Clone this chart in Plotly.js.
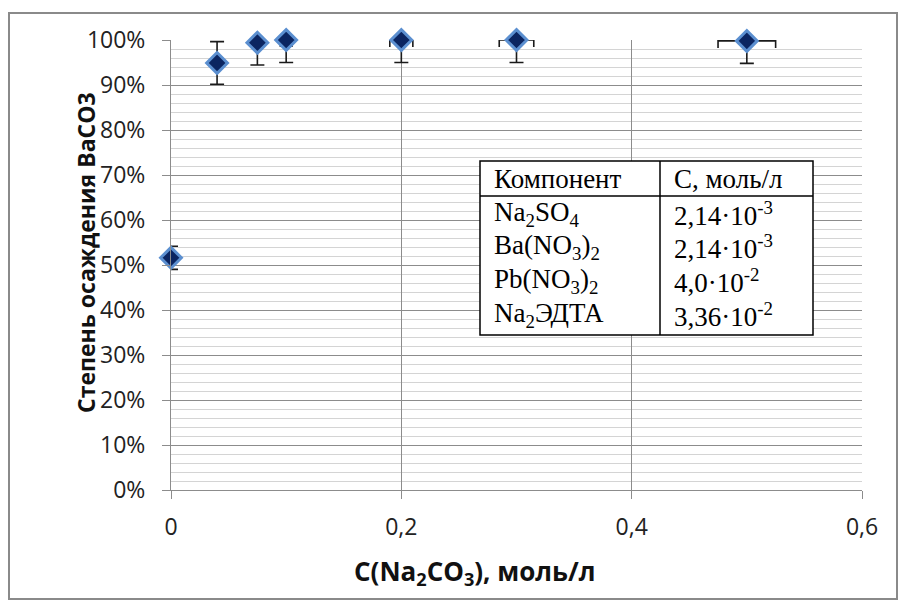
<!DOCTYPE html>
<html>
<head>
<meta charset="utf-8">
<script src="https://cdn.plot.ly/plotly-3.0.1.min.js"></script>
<style>html,body{margin:0;padding:0;background:#fff;}#chart{width:898px;height:600px;}</style>
</head>
<body>
<div id="chart"></div>
<script>
// ---- data ----
const concNa2CO3 = [0, 0.04, 0.075, 0.1, 0.2, 0.3, 0.5];          // mol/l
const precipDegree = [0.516, 0.949, 0.994, 1.0, 1.0, 1.0, 0.998]; // fraction
const errPercentX = 5;
const errPercentY = 5;
const xTickValues = [0, 0.2, 0.4, 0.6];
const xTickLabels = ['0', '0,2', '0,4', '0,6'];
const tableHeader = ['Компонент', 'C, моль/л'];
const tableComponents = ['Na<sub>2</sub>SO<sub>4</sub>', 'Ba(NO<sub>3</sub>)<sub>2</sub>', 'Pb(NO<sub>3</sub>)<sub>2</sub>', 'Na<sub>2</sub>ЭДТА'];
const tableConcentrations = ['2,14·10<sup>-3</sup>', '2,14·10<sup>-3</sup>', '4,0·10<sup>-2</sup>', '3,36·10<sup>-2</sup>'];

// ---- layout geometry (pixels) ----
const W = 898, H = 600;
const M = {l: 171, r: 36, t: 40, b: 110};
const pw = W - M.l - M.r, ph = H - M.t - M.b;
const px = v => (v - M.l) / pw;
const py = v => 1 - (v - M.t) / ph;

const tickFont = {family: 'Open Sans, sans-serif', size: 23, color: '#222'};

const traces = [
  { // error bars (clipped to plot)
    x: concNa2CO3, y: precipDegree, type: 'scatter', mode: 'markers',
    marker: {size: 1, color: 'rgba(0,0,0,0)'},
    error_y: {type: 'percent', value: errPercentY, color: '#1a1a1a', thickness: 1.6, width: 7},
    error_x: {type: 'percent', value: errPercentX, color: '#1a1a1a', thickness: 1.6, width: 7},
    cliponaxis: true, hoverinfo: 'skip', showlegend: false
  },
  { // markers
    x: concNa2CO3, y: precipDegree, type: 'scatter', mode: 'markers',
    marker: {symbol: 'diamond', size: 16, color: '#0b2561', line: {color: '#5b8fd0', width: 3}},
    cliponaxis: false, showlegend: false
  }
];

const shapes = [
  {type: 'rect', xref: 'paper', yref: 'paper', x0: px(9), x1: px(897), y0: py(13), y1: py(599),
   line: {color: '#8a8a8a', width: 2}, fillcolor: 'rgba(0,0,0,0)', layer: 'below'},
  {type: 'rect', xref: 'paper', yref: 'paper', x0: px(480), x1: px(813), y0: py(161), y1: py(335),
   line: {color: '#000', width: 1.5}, fillcolor: '#fff', layer: 'above'},
  {type: 'line', xref: 'paper', yref: 'paper', x0: px(480), x1: px(813), y0: py(196), y1: py(196),
   line: {color: '#000', width: 1.5}},
  {type: 'line', xref: 'paper', yref: 'paper', x0: px(660), x1: px(660), y0: py(161), y1: py(335),
   line: {color: '#000', width: 1.5}}
];

const tFont = {family: 'Liberation Serif, Times New Roman, serif', size: 27, color: '#000'};
const rowY = [179, 214, 247, 281, 315];
const annotations = [];
annotations.push({xref: 'paper', yref: 'paper', x: px(492), y: py(rowY[0]), xanchor: 'left', yanchor: 'middle', text: tableHeader[0], showarrow: false, font: tFont});
annotations.push({xref: 'paper', yref: 'paper', x: px(672), y: py(rowY[0]), xanchor: 'left', yanchor: 'middle', text: tableHeader[1], showarrow: false, font: tFont});
tableComponents.forEach((c, i) => {
  annotations.push({xref: 'paper', yref: 'paper', x: px(492), y: py(rowY[i + 1]), xanchor: 'left', yanchor: 'middle', text: c, showarrow: false, font: tFont});
  annotations.push({xref: 'paper', yref: 'paper', x: px(672), y: py(rowY[i + 1]), xanchor: 'left', yanchor: 'middle', text: tableConcentrations[i], showarrow: false, font: tFont});
});
annotations.push({xref: 'paper', yref: 'paper', x: px(475), y: py(572), xanchor: 'center', yanchor: 'middle',
  text: '<b>C(Na<sub>2</sub>CO<sub>3</sub>), моль/л</b>', showarrow: false,
  font: {family: 'Open Sans, sans-serif', size: 26, color: '#111'}});
annotations.push({xref: 'paper', yref: 'paper', x: px(86), y: py(253), xanchor: 'center', yanchor: 'middle', textangle: -90,
  text: '<b>Степень осаждения BaCO3</b>', showarrow: false,
  font: {family: 'Open Sans, sans-serif', size: 23, color: '#111'}});

const layout = {
  width: W, height: H, margin: M,
  paper_bgcolor: '#fff', plot_bgcolor: '#fff',
  separators: ', ',
  showlegend: false,
  xaxis: {
    range: [0, 0.6], tickvals: xTickValues, ticktext: xTickLabels,
    showgrid: true, gridcolor: '#8c8c8c', gridwidth: 1,
    showline: true, linecolor: '#8c8c8c', linewidth: 1,
    ticks: 'outside', ticklen: 8, tickcolor: '#8c8c8c',
    tickfont: tickFont, ticklabelstandoff: 8, zeroline: false, fixedrange: true
  },
  yaxis: {
    range: [0, 1], dtick: 0.1, tickformat: '.0%',
    showgrid: true, gridcolor: '#8c8c8c', gridwidth: 1,
    minor: {dtick: 0.02, showgrid: true, gridcolor: '#d4d4d4', gridwidth: 1},
    showline: true, linecolor: '#8c8c8c', linewidth: 1,
    ticks: 'outside', ticklen: 8, tickcolor: '#8c8c8c',
    tickfont: tickFont, ticklabelstandoff: 12, zeroline: false, fixedrange: true
  },
  shapes: shapes,
  annotations: annotations
};

Plotly.newPlot('chart', traces, layout, {staticPlot: true, displayModeBar: false});
</script>
</body>
</html>
